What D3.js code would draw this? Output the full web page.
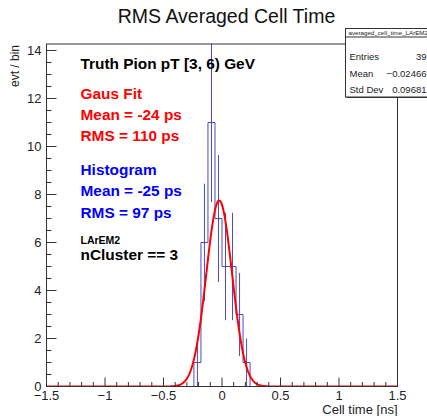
<!DOCTYPE html>
<html>
<head>
<meta charset="utf-8">
<script src="https://cdn.jsdelivr.net/npm/d3@7"></script>
<style>
  body { margin: 0; background: #fff; }
  svg { display: block; font-family: "Liberation Sans", Arial, sans-serif; }
</style>
</head>
<body>
<svg id="chart" width="427" height="416"></svg>
<script>
// histogram contents (bins of 0.06 ns, empty bins left out)
const binLow = [-0.24, -0.18, -0.12, -0.06, 0, 0.06, 0.12, 0.18];
const binCounts = [1, 6, 11, 7, 5, 5, 3, 1];
const binWidth = 0.06;

// gaussian fit
const fitAmp = 7.75;
const fitMean = -0.024;
const fitSigma = 0.110;

const xTicks = [-1.5, -1, -0.5, 0, 0.5, 1, 1.5];
const yTicks = [0, 2, 4, 6, 8, 10, 12, 14];

const statsTitle = 'averaged_cell_time_LArEM2';
const statsRows = [['Entries', '39'], ['Mean', '\u22120.02466'], ['Std Dev', '0.09681']];

const notes = [
  { text: 'Truth Pion pT [3, 6) GeV', color: '#000', size: 15.4, y: 68.5 },
  { text: 'Gaus Fit', color: '#ff0000', size: 15.4, y: 98.5 },
  { text: 'Mean = -24 ps', color: '#ff0000', size: 15.4, y: 119.5 },
  { text: 'RMS = 110 ps', color: '#ff0000', size: 15.4, y: 140.5 },
  { text: 'Histogram', color: '#0000ff', size: 15.4, y: 174.5 },
  { text: 'Mean = -25 ps', color: '#0000ff', size: 15.4, y: 196 },
  { text: 'RMS = 97 ps', color: '#0000ff', size: 15.4, y: 217.5 },
  { text: 'LArEM2', color: '#000', size: 10.5, y: 244 },
  { text: 'nCluster == 3', color: '#000', size: 15.4, y: 259.5 },
];

const frame = { left: 46.5, right: 397.5, top: 44, bottom: 386.5 };
const svg = d3.select('#chart');

const x = d3.scaleLinear().domain([-1.5, 1.5]).range([frame.left, frame.right]);
const y = d3.scaleLinear().domain([0, 14.27]).range([frame.bottom, frame.top]);

svg.append('defs').append('clipPath').attr('id', 'clip')
  .append('rect')
  .attr('x', frame.left).attr('y', frame.top)
  .attr('width', frame.right - frame.left).attr('height', frame.bottom - frame.top);

const plot = svg.append('g').attr('clip-path', 'url(#clip)');
const histColor = '#4b4bc3';

// step outline
const pts = [[binLow[0], 0]];
binLow.forEach((lo, i) => {
  pts.push([lo, binCounts[i]]);
  pts.push([lo + binWidth, binCounts[i]]);
});
pts.push([binLow[binLow.length - 1] + binWidth, 0]);

plot.append('path')
  .attr('d', d3.line().x(d => x(d[0])).y(d => y(d[1]))(pts))
  .attr('fill', 'none')
  .attr('stroke', histColor)
  .attr('stroke-width', 1);

// error bars
plot.selectAll('line.err')
  .data(binLow.map((lo, i) => ({ c: lo + binWidth / 2, n: binCounts[i] })))
  .join('line')
  .attr('class', 'err')
  .attr('x1', d => x(d.c)).attr('x2', d => x(d.c))
  .attr('y1', d => y(d.n - Math.sqrt(d.n)))
  .attr('y2', d => y(d.n + Math.sqrt(d.n)))
  .attr('stroke', histColor)
  .attr('stroke-width', 1);

// fit curve
const fitX = d3.range(-1.5, 1.5001, 0.005);
plot.append('path')
  .attr('d', d3.line()
    .x(d => x(d))
    .y(d => y(fitAmp * Math.exp(-0.5 * Math.pow((d - fitMean) / fitSigma, 2))))(fitX))
  .attr('fill', 'none')
  .attr('stroke', '#ff0000')
  .attr('stroke-width', 2);

// frame
svg.append('rect')
  .attr('x', frame.left).attr('y', frame.top)
  .attr('width', frame.right - frame.left).attr('height', frame.bottom - frame.top)
  .attr('fill', 'none').attr('stroke', '#333').attr('stroke-width', 1);

// x ticks
const xMinor = d3.range(-15, 16).map(i => i / 10);
svg.append('g').selectAll('line')
  .data(xMinor)
  .join('line')
  .attr('x1', d => x(d)).attr('x2', d => x(d))
  .attr('y1', frame.bottom)
  .attr('y2', d => frame.bottom - (Math.abs(d * 2 - Math.round(d * 2)) < 1e-6 ? 9 : 4.5))
  .attr('stroke', '#333');

svg.append('g').selectAll('text')
  .data(xTicks)
  .join('text')
  .attr('x', d => x(d)).attr('y', 399.5)
  .attr('text-anchor', 'middle')
  .attr('font-size', 13)
  .attr('fill', '#222')
  .text(d => d < 0 ? '\u2212' + Math.abs(d) : d);

// y ticks
const yMinor = d3.range(0, 29).map(i => i / 2);
svg.append('g').selectAll('line')
  .data(yMinor)
  .join('line')
  .attr('x1', frame.left)
  .attr('x2', d => frame.left + (d % 2 === 0 ? 10 : 5))
  .attr('y1', d => y(d)).attr('y2', d => y(d))
  .attr('stroke', '#333');

svg.append('g').selectAll('text')
  .data(yTicks)
  .join('text')
  .attr('x', 41.5).attr('y', d => y(d) + 4.5)
  .attr('text-anchor', 'end')
  .attr('font-size', 13)
  .attr('fill', '#222')
  .text(d => d);

// axis titles
svg.append('text')
  .attr('x', frame.right).attr('y', 414)
  .attr('text-anchor', 'end')
  .attr('font-size', 13)
  .attr('fill', '#222')
  .text('Cell time [ns]');

svg.append('text')
  .attr('transform', `translate(19,${frame.top + 1}) rotate(-90)`)
  .attr('text-anchor', 'end')
  .attr('font-size', 12)
  .attr('fill', '#222')
  .text('evt / bin');

// title
svg.append('text')
  .attr('x', 226.5).attr('y', 23)
  .attr('text-anchor', 'middle')
  .attr('font-size', 19.5)
  .attr('fill', '#111')
  .text('RMS Averaged Cell Time');

// annotations
svg.append('g').selectAll('text')
  .data(notes)
  .join('text')
  .attr('x', 80.5).attr('y', d => d.y)
  .attr('font-size', d => d.size)
  .attr('font-weight', 'bold')
  .attr('fill', d => d.color)
  .text(d => d.text);

// stats box
const sb = { left: 345.5, top: 28.5, right: 432, bottom: 97 };
const stats = svg.append('g');
stats.append('rect')
  .attr('x', sb.left + 1).attr('y', sb.top + 1)
  .attr('width', sb.right - sb.left).attr('height', sb.bottom - sb.top)
  .attr('fill', '#333');
stats.append('rect')
  .attr('x', sb.left).attr('y', sb.top)
  .attr('width', sb.right - sb.left).attr('height', sb.bottom - sb.top)
  .attr('fill', '#fff').attr('stroke', '#333');
stats.append('line')
  .attr('x1', sb.left).attr('x2', sb.right)
  .attr('y1', 37).attr('y2', 37)
  .attr('stroke', '#333');
stats.append('text')
  .attr('x', sb.left + 3).attr('y', 34.5)
  .attr('font-size', 6.2)
  .attr('fill', '#222')
  .text(statsTitle);
statsRows.forEach((r, i) => {
  const ry = 60 + i * 16.7;
  stats.append('text')
    .attr('x', sb.left + 4).attr('y', ry)
    .attr('font-size', 9.5).attr('fill', '#222')
    .text(r[0]);
  stats.append('text')
    .attr('x', 426.5).attr('y', ry)
    .attr('text-anchor', 'end')
    .attr('font-size', 9.5).attr('fill', '#222')
    .text(r[1]);
});
</script>
</body>
</html>
